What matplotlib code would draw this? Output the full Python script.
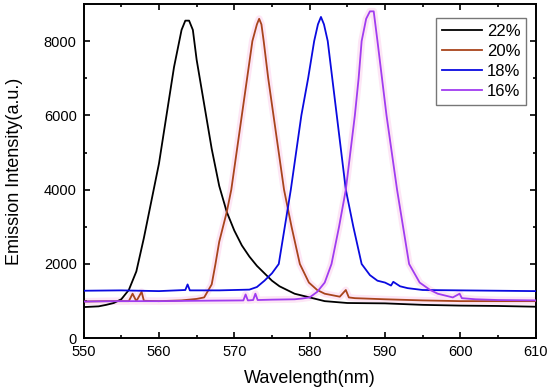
import matplotlib
matplotlib.use('Agg')
import matplotlib.pyplot as plt

plt.rcParams['font.family'] = ['Liberation Sans', 'DejaVu Sans']

# 22% sample
wl_22 = [550, 552, 553, 554, 555, 556, 557, 558, 559, 560, 561, 562, 563, 563.5, 564, 564.5, 565,
         566, 567, 568, 569, 570, 571, 572, 573, 574, 575, 576, 577, 578, 579, 580, 582, 585,
         590, 595, 600, 605, 610]
in_22 = [840, 860, 900, 950, 1050, 1300, 1800, 2700, 3700, 4700, 6000, 7300, 8300, 8550, 8550, 8300, 7500,
         6300, 5100, 4100, 3400, 2900, 2500, 2200, 1950, 1750, 1550, 1400, 1300, 1200, 1150, 1100, 1000, 950,
         940, 900, 880, 870, 850]

# 20% sample
wl_20 = [550, 553, 556, 556.5, 557, 557.7, 558, 560, 563, 565, 566, 567, 567.5, 568, 569, 569.6, 570.3, 571,
         571.7, 572.4, 573, 573.3, 573.6, 573.9, 574.5, 575.2, 575.9, 576.6, 577.6, 578.7, 579.9, 581, 582,
         584, 584.8, 585.2, 586, 590, 595, 600, 605, 610]
in_20 = [990, 1000, 1000, 1200, 1000, 1250, 1010, 1000, 1020, 1060, 1100, 1450, 2000, 2600, 3400, 4000, 5000, 6000,
         7000, 8000, 8450, 8600, 8450, 8000, 7000, 6000, 5000, 4000, 3000, 2000, 1500, 1300, 1200,
         1120, 1300, 1100, 1080, 1050, 1020, 1000, 1000, 1000]

# 18% sample
wl_18 = [550, 555, 560, 563.5, 563.8, 564.1, 568, 572, 573, 574, 575, 575.9, 576.7, 577.5, 578.2, 578.9, 579.8,
         580.6, 581.1, 581.5, 581.9, 582.4, 583, 583.6, 584.2, 584.8, 585.8, 586.9, 588, 589, 590, 590.8,
         591.1, 592, 593, 595, 600, 605, 610]
in_18 = [1280, 1290, 1270, 1300, 1450, 1290, 1290, 1310, 1380, 1550, 1750, 2000, 3000, 4000, 5000, 6000, 7000,
         8000, 8450, 8650, 8450, 8000, 7000, 6000, 5000, 4000, 3000, 2000, 1700, 1550, 1500, 1420,
         1520, 1400, 1350, 1300, 1290, 1280, 1270]

# 16% sample
wl_16 = [550, 555, 560, 565, 571.2, 571.5, 571.8, 572.5, 572.8, 573.1, 575, 578, 579, 580, 581, 582, 582.9,
         583.9, 584.8, 585.4, 586, 586.5, 586.9, 587.5, 588, 588.5, 589, 589.6, 590.2, 590.9, 591.6,
         592.4, 593.2, 594.6, 596, 597, 599, 599.9, 600.2, 602, 605, 610]
in_16 = [990, 1000, 1000, 1010, 1020, 1180, 1020, 1030, 1200, 1030, 1040, 1050, 1070, 1100, 1250, 1500, 2000,
         3000, 4000, 5000, 6000, 7000, 8000, 8600, 8800, 8800, 8000, 7000, 6000, 5000, 4000,
         3000, 2000, 1500, 1300, 1200, 1100, 1200, 1080, 1050, 1030, 1020]

labels = ['22%', '20%', '18%', '16%']
colors = ['#000000', '#a8441c', '#0a0ae0', '#a03cf0']

fig = plt.figure(figsize=(5.5, 3.92), dpi=100)
ax = fig.add_axes([0.152, 0.137, 0.822, 0.853])

# pale pink halo seen around the two right-hand curves
ax.plot(wl_20, in_20, color='#fde6f5', linewidth=5, solid_capstyle='round', zorder=1)
ax.plot(wl_16, in_16, color='#fde6f5', linewidth=5, solid_capstyle='round', zorder=1)

series = [(wl_22, in_22), (wl_20, in_20), (wl_18, in_18), (wl_16, in_16)]
for (x, y), lab, c in zip(series, labels, colors):
    ax.plot(x, y, color=c, linewidth=1.3, label=lab, zorder=3)

ax.set_xlim(550, 610)
ax.set_ylim(0, 9000)
ax.set_xticks(range(550, 611, 10))
ax.set_xticks(range(555, 610, 10), minor=True)
ax.set_yticks(range(0, 8001, 2000))
ax.set_yticks(range(1000, 9000, 2000), minor=True)
ax.tick_params(which='both', direction='in', top=True, right=True, labelsize=10.5, width=1.2, pad=5)
ax.tick_params(which='major', length=4.5)
ax.tick_params(which='minor', length=2.5)
for s in ax.spines.values():
    s.set_linewidth(1.4)

ax.set_xlabel('Wavelength(nm)', fontsize=13, labelpad=8)
ax.set_ylabel('Emission Intensity(a.u.)', fontsize=13, labelpad=15)

leg = ax.legend(loc='upper right', fontsize=12, handlelength=2.4, frameon=True, fancybox=False,
                edgecolor='#555555', borderpad=0.35, labelspacing=0.3, handletextpad=0.3,
                borderaxespad=0, bbox_to_anchor=(0.979, 0.958))
leg.get_frame().set_linewidth(1.0)

fig.savefig('out.png', dpi=100)
